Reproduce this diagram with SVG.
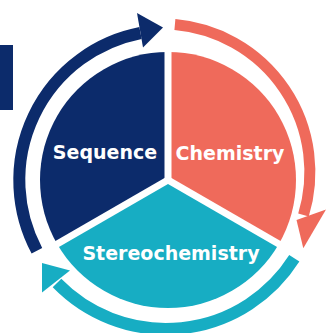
<svg xmlns="http://www.w3.org/2000/svg" width="326" height="333" viewBox="0 0 326 333">
  <style>
    .lbl { font-family: "DejaVu Sans", Verdana, sans-serif; font-weight: bold; font-size: 19px; fill: #ffffff; text-anchor: middle; }
    .navy { fill: #0c2b6b; }
    .salmon { fill: #ef6a5b; }
    .teal { fill: #17adc3; }
    .arc { fill: none; stroke-linecap: butt; }
    .sep { stroke: #ffffff; stroke-width: 7; stroke-linecap: butt; }
  </style>
  <rect width="326" height="333" fill="#ffffff"/>
  <rect id="side-bar" x="0" y="45" width="13" height="65" class="navy"/>

  <g id="connectors">
    <path class="arc" stroke="#0c2b6b" stroke-width="12" d="M36.9,250.7 A150,150 0 0 1 140.5,33"/>
    <polygon class="navy" points="137,13 163,27.5 143,47.5"/>
    <path class="arc" stroke="#ef6a5b" stroke-width="11" d="M174.9,24.6 A148,148 0 0 1 303.5,215"/>
    <polygon class="salmon" points="296.5,220 326,209.5 303.3,248.3"/>
    <path class="arc" stroke="#17adc3" stroke-width="12" d="M294.3,258.3 A152,152 0 0 1 57,283"/>
    <polygon class="teal" points="42,263 70,270.5 42,292.5"/>
  </g>

  <g id="node-sequence">
    <path class="navy" d="M168,180 L57.15,244 A128,128 0 0 1 168,52 Z"/>
    <text class="lbl" x="105" y="159">Sequence</text>
  </g>
  <g id="node-chemistry">
    <path class="salmon" d="M168,180 L168,52 A128,128 0 0 1 278.85,244 Z"/>
    <text class="lbl" x="230" y="160">Chemistry</text>
  </g>
  <g id="node-stereochemistry">
    <path class="teal" d="M168,180 L278.85,244 A128,128 0 0 1 57.15,244 Z"/>
    <text class="lbl" x="171" y="260">Stereochemistry</text>
  </g>
  <g id="separators">
    <line class="sep" x1="168" y1="180" x2="168" y2="48"/>
    <line class="sep" x1="168" y1="180" x2="53.7" y2="246"/>
    <line class="sep" x1="168" y1="180" x2="282.3" y2="246"/>
  </g>
</svg>
